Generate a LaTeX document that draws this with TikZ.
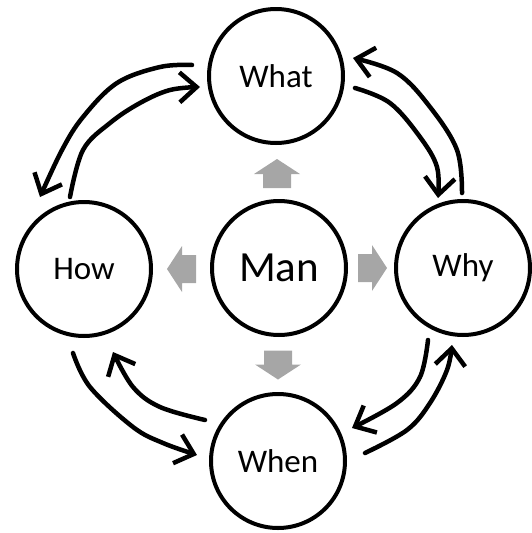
\documentclass[tikz,border=0pt]{standalone}
\usepackage{fontspec}
\setmainfont{Carlito}
\usetikzlibrary{arrows.meta}
\definecolor{arrowgray}{HTML}{A6A6A6}
\tikzset{
  bubble/.style={circle, draw=black, line width=4pt, minimum size=134pt, inner sep=0pt, fill=white,
    font=\fontsize{33}{40}\selectfont},
  hub/.style={bubble, font=\fontsize{43}{52}\selectfont},
  grayarrow/.pic={\fill[arrowgray] (-14.5,-14) -- (-0.5,-14) -- (-0.5,-23) -- (14.5,0)
      -- (-0.5,23) -- (-0.5,14) -- (-14.5,14) -- cycle;},
  sketch/.style={line width=4.5pt, line cap=round, line join=round,
    -{Straight Barb[length=17pt, width=30pt, line width=4.5pt]}}
}
\begin{document}
\begin{tikzpicture}[x=1pt, y=-1pt]
\useasboundingbox (0,0) rectangle (532,533);
\node[bubble] (what) at (276,76) {What};
\node[bubble] (how)  at (84,269) {How};
\node[bubble] (why)  at (463,268) {Why};
\node[bubble] (when) at (278,461) {When};
\node[hub]    (man)  at (279,268) {Man};
% gray arrows
\pic[rotate=90]  (up)    at (277,173.5) {grayarrow};
\pic[rotate=180] (left)  at (181.5,269) {grayarrow};
\pic             (right) at (372.5,268) {grayarrow};
\pic[rotate=-90] (down)  at (278,365) {grayarrow};
% sketch end points
\coordinate (a1) at (192,65);  \coordinate (a2) at (40,197);
\coordinate (b1) at (70,197);  \coordinate (b2) at (200,87);
\coordinate (c1) at (462,193); \coordinate (c2) at (353,58);
\coordinate (d1) at (355,88);  \coordinate (d2) at (438,198);
\coordinate (e1) at (73,353);  \coordinate (e2) at (197,455);
\coordinate (f1) at (205,420); \coordinate (f2) at (113,352);
\coordinate (g1) at (428,340); \coordinate (g2) at (352,428);
\coordinate (h1) at (365,453); \coordinate (h2) at (452,345);
% What <-> How
\draw[sketch] plot[smooth, tension=0.6] coordinates {(a1) (160,67) (117,83) (83,117) (62,150) (a2)};
\draw[sketch] plot[smooth, tension=0.6] coordinates {(b1) (83,150) (110,123) (140,103) (170,90) (b2)};
% What <-> Why
\draw[sketch] plot[smooth, tension=0.6] coordinates {(c1) (457,150) (430,107) (397,73) (c2)};
\draw[sketch] plot[smooth, tension=0.6] coordinates {(d1) (390,103) (420,137) (437,167) (d2)};
% How <-> When
\draw[sketch] plot[smooth, tension=0.6] coordinates {(e1) (90,387) (133,427) (163,443) (e2)};
\draw[sketch] plot[smooth, tension=0.6] coordinates {(f1) (160,407) (133,387) (f2)};
% Why <-> When
\draw[sketch] plot[smooth, tension=0.6] coordinates {(g1) (420,377) (397,403) (g2)};
\draw[sketch] plot[smooth, tension=0.6] coordinates {(h1) (407,430) (430,403) (447,370) (h2)};
\end{tikzpicture}
\end{document}
